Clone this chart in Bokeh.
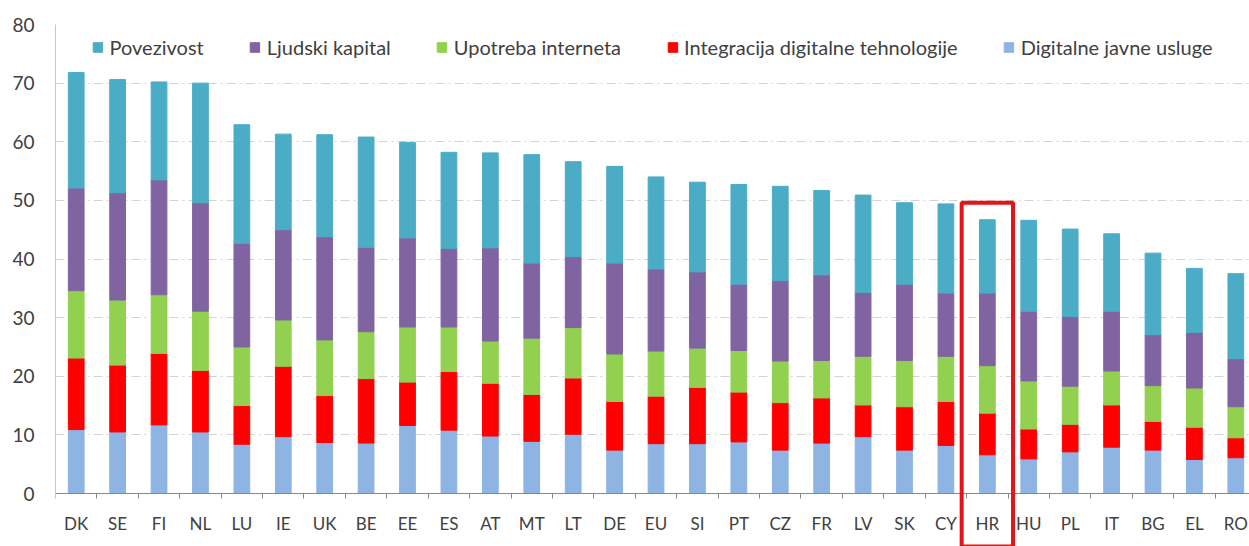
from bokeh.plotting import figure
from bokeh.models import (Range1d, FixedTicker, LegendItem, Legend, BoxAnnotation,
                          ColumnDataSource)
from bokeh.embed import file_html
from bokeh.resources import INLINE

countries = ["DK", "SE", "FI", "NL", "LU", "IE", "UK", "BE", "EE", "ES", "AT", "MT",
             "LT", "DE", "EU", "SI", "PT", "CZ", "FR", "LV", "SK", "CY", "HR", "HU",
             "PL", "IT", "BG", "EL", "RO"]

digitalne_javne_usluge = [10.9, 10.5, 11.7, 10.5, 8.4, 9.7, 8.7, 8.6, 11.6, 10.8, 9.8, 8.9,
                          10.1, 7.4, 8.5, 8.5, 8.8, 7.4, 8.6, 9.7, 7.4, 8.2, 6.6, 5.9,
                          7.1, 7.9, 7.4, 5.8, 6.1]
integracija = [12.2, 11.4, 12.2, 10.5, 6.6, 12.0, 8.0, 11.0, 7.4, 10.0, 9.0, 8.0,
               9.6, 8.3, 8.1, 9.6, 8.5, 8.1, 7.7, 5.4, 7.4, 7.5, 7.1, 5.1,
               4.7, 7.2, 4.9, 5.5, 3.4]
upotreba_interneta = [11.5, 11.1, 10.0, 10.1, 10.0, 7.9, 9.5, 8.0, 9.4, 7.6, 7.2, 9.6,
                      8.6, 8.1, 7.7, 6.7, 7.1, 7.1, 6.4, 8.3, 7.9, 7.7, 8.1, 8.2,
                      6.5, 5.8, 6.1, 6.7, 5.3]
ljudski_kapital = [17.5, 18.3, 19.6, 18.5, 17.7, 15.4, 17.6, 14.4, 15.2, 13.4, 15.9, 12.8,
                   12.1, 15.5, 14.0, 13.0, 11.3, 13.7, 14.6, 10.9, 13.0, 10.8, 12.4, 11.9,
                   11.9, 10.2, 8.7, 9.5, 8.2]
povezivost = [19.7, 19.3, 16.7, 20.4, 20.2, 16.3, 17.4, 18.8, 16.3, 16.4, 16.2, 18.5,
              16.2, 16.5, 15.7, 15.3, 17.0, 16.1, 14.4, 16.6, 13.9, 15.2, 12.5, 15.5,
              14.9, 13.2, 13.9, 10.9, 14.5]

series_keys = ["digitalne", "integracija", "upotreba", "ljudski", "povezivost"]
series_labels = ["Digitalne javne usluge", "Integracija digitalne tehnologije",
                 "Upotreba interneta", "Ljudski kapital", "Povezivost"]
series_colors = ["#8DB4E2", "#FF0000", "#92D050", "#8064A2", "#4BACC6"]

y_ticks = [0, 10, 20, 30, 40, 50, 60, 70, 80]
highlight_country = "HR"
highlight_top = 49.6

FONT = "Lato"
TEXT_COLOR = "#404040"

xs = list(range(len(countries)))
source = ColumnDataSource(dict(
    x=xs,
    digitalne=digitalne_javne_usluge,
    integracija=integracija,
    upotreba=upotreba_interneta,
    ljudski=ljudski_kapital,
    povezivost=povezivost,
))

p = figure(width=1249, height=546,
           x_range=Range1d(-0.5, 28.33), y_range=Range1d(-9.04, 80),
           output_backend="svg", toolbar_location=None,
           min_border_left=55, min_border_right=0,
           min_border_top=24, min_border_bottom=0)
p.outline_line_color = None
p.background_fill_color = "white"

renderers = p.vbar_stack(series_keys, x="x", width=0.38, color=series_colors,
                         source=source)

# grid
p.xgrid.visible = False
p.ygrid.ticker = FixedTicker(ticks=y_ticks[1:])
p.ygrid.grid_line_color = "#d4d4d4"
p.ygrid.grid_line_dash = "9 4 2 4"
p.ygrid.grid_line_width = 1

# y axis
p.yaxis.ticker = FixedTicker(ticks=y_ticks)
p.yaxis.bounds = (0, 80)
p.yaxis.axis_line_color = "#c8c8c8"
p.yaxis.major_tick_line_color = None
p.yaxis.major_tick_out = 0
p.yaxis.major_tick_in = 0
p.yaxis.minor_tick_line_color = None
p.yaxis.major_label_standoff = 21
p.yaxis.major_label_text_font = FONT
p.yaxis.major_label_text_font_size = "19px"
p.yaxis.major_label_text_color = TEXT_COLOR

# x axis (drawn at y = 0)
p.xaxis.fixed_location = 0
p.xaxis.ticker = FixedTicker(ticks=xs, minor_ticks=[i - 0.5 for i in range(len(countries) + 1)])
p.xaxis.major_label_overrides = {i: c for i, c in enumerate(countries)}
p.xaxis.axis_line_color = "#888888"
p.xaxis.major_tick_line_color = None
p.xaxis.major_tick_out = 0
p.xaxis.major_tick_in = 0
p.xaxis.minor_tick_line_color = "#888888"
p.xaxis.minor_tick_in = 0
p.xaxis.minor_tick_out = 5
p.xaxis.major_label_standoff = 14
p.xaxis.major_label_text_font = FONT
p.xaxis.major_label_text_font_size = "17px"
p.xaxis.major_label_text_color = TEXT_COLOR

# legend (top-of-stack first)
items = [LegendItem(label=lab, renderers=[r])
         for lab, r in zip(reversed(series_labels), reversed(renderers))]
legend = Legend(items=items, orientation="horizontal", location="top_center",
                glyph_width=12, glyph_height=12, label_standoff=6, spacing=45,
                label_text_font=FONT, label_text_font_size="20px",
                label_text_color=TEXT_COLOR, border_line_color=None,
                background_fill_alpha=0, margin=11, padding=6)
p.add_layout(legend)

# highlight box
hi = countries.index(highlight_country)
box = BoxAnnotation(left=hi - 0.62, right=hi + 0.62, top=highlight_top,
                    fill_alpha=0, line_color="#E0161B", line_alpha=1.0,
                    line_width=4, level="overlay")
p.add_layout(box)

open("out.html", "w").write(file_html(p, INLINE))
